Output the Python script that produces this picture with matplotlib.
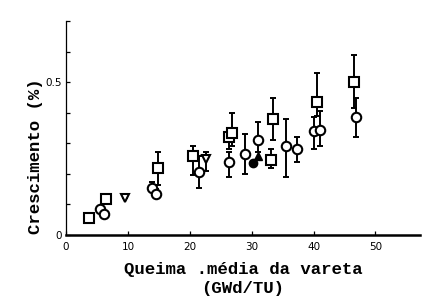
import matplotlib
matplotlib.use("Agg")
import matplotlib.pyplot as plt
import numpy as np

# open squares
sq_x = [3.7, 6.45, 14.8, 20.5, 26.3, 26.9, 33.2, 33.4, 40.5, 46.6]
sq_y = [0.056, 0.118, 0.22, 0.26, 0.32, 0.335, 0.245, 0.38, 0.435, 0.50]
sq_lo = [0.056, 0.118, 0.165, 0.195, 0.28, 0.29, 0.22, 0.31, 0.39, 0.415]
sq_hi = [0.056, 0.118, 0.27, 0.29, 0.32, 0.40, 0.28, 0.45, 0.53, 0.59]

# open circles
ci_x = [5.5, 6.1, 13.9, 14.5, 21.5, 26.3, 29.0, 31.1, 35.5, 37.4, 40.0, 41.1, 46.9]
ci_y = [0.085, 0.07, 0.155, 0.135, 0.205, 0.24, 0.265, 0.31, 0.29, 0.28, 0.34, 0.345, 0.385]
ci_lo = [0.085, 0.07, 0.14, 0.12, 0.153, 0.19, 0.20, 0.27, 0.19, 0.24, 0.28, 0.29, 0.32]
ci_hi = [0.085, 0.07, 0.175, 0.15, 0.26, 0.27, 0.33, 0.37, 0.38, 0.32, 0.385, 0.405, 0.45]

# open down-triangles
tr_x = [9.5, 22.7]
tr_y = [0.12, 0.25]
tr_lo = [0.12, 0.21]
tr_hi = [0.12, 0.27]

# filled markers
fc_x = [30.3]
fc_y = [0.235]
ft_x = [31.0]
ft_y = [0.26]

x_ticks = [0, 10, 20, 30, 40, 50]
y_ticks = [0, 0.1, 0.2, 0.3, 0.4, 0.5, 0.6, 0.7]
y_ticklabels = ["0", "", "", "", "", "0.5", "", ""]

fig = plt.figure(figsize=(4.28, 3.02), dpi=100)
ax = fig.add_axes([0.1542, 0.222, 0.827, 0.708])

def draw(xs, ys, lo, hi, marker, ms):
    xs = np.array(xs); ys = np.array(ys)
    yerr = np.vstack([ys - np.array(lo), np.array(hi) - ys])
    ax.errorbar(xs, ys, yerr=yerr, fmt="none", ecolor="black", elinewidth=1.4,
                capsize=2.5, capthick=1.4, zorder=2)
    ax.plot(xs, ys, linestyle="none", marker=marker, markersize=ms,
            markerfacecolor="white", markeredgecolor="black", markeredgewidth=1.5, zorder=3)

draw(sq_x, sq_y, sq_lo, sq_hi, "s", 6.8)
draw(ci_x, ci_y, ci_lo, ci_hi, "o", 6.8)
draw(tr_x, tr_y, tr_lo, tr_hi, "v", 6)
ax.plot(fc_x, fc_y, linestyle="none", marker="o", markersize=6, color="black", zorder=3)
ax.plot(ft_x, ft_y, linestyle="none", marker="^", markersize=6, color="black", zorder=3)

ax.set_xlim(0, 57.2)
ax.set_ylim(0, 0.7)
ax.spines["top"].set_visible(False)
ax.spines["right"].set_visible(False)
ax.spines["left"].set_linewidth(0.9)
ax.spines["bottom"].set_linewidth(1.8)

ax.set_xticks(x_ticks)
ax.set_xticklabels([str(t) for t in x_ticks], fontsize=7.5, family="DejaVu Sans")
ax.set_yticks(y_ticks)
ax.set_yticklabels(y_ticklabels, fontsize=7.5, family="DejaVu Sans")
ax.tick_params(axis="both", direction="in", length=3, width=0.9, colors="black", pad=3)
ax.tick_params(axis="x", pad=5)

ax.set_xlabel("Queima .média da vareta\n(GWd/TU)", fontsize=12.5, fontweight="bold",
              family="Liberation Mono", labelpad=7, linespacing=1.35)
ax.set_ylabel("Crescimento (%)", fontsize=12.5, fontweight="bold",
              family="Liberation Mono")
ax.yaxis.set_label_coords(-0.065, 0.37)

fig.savefig("out.png", dpi=100)
